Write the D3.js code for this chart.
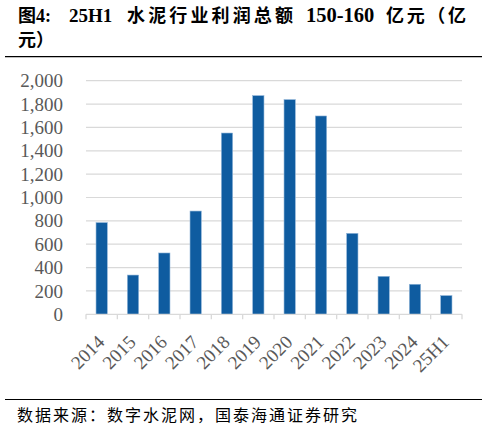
<!DOCTYPE html>
<html>
<head>
<meta charset="utf-8">
<script src="https://cdn.jsdelivr.net/npm/d3@7"></script>
<style>
  html, body { margin: 0; padding: 0; background: #fff; }
  svg { display: block; }
</style>
</head>
<body>
<svg id="chart" width="487" height="431"></svg>
<script>
// data (亿元)
var categories = ['2014', '2015', '2016', '2017', '2018', '2019', '2020', '2021', '2022', '2023', '2024', '25H1'];
var profits = [785, 336, 525, 884, 1552, 1872, 1838, 1698, 693, 325, 257, 160];
var yTicks = [0, 200, 400, 600, 800, 1000, 1200, 1400, 1600, 1800, 2000];

var svg = d3.select('#chart');
var plot = { left: 86, right: 462, top: 80.7, bottom: 314.3 };

var serif = '"Liberation Serif", "Times New Roman", serif';
var cjk = '"Noto Sans CJK SC", "Noto Sans", sans-serif';

// title, two lines (wraps like the original)
var title = svg.append('text')
    .attr('font-weight', 'bold')
    .attr('font-size', 18)
    .attr('fill', '#000');
var l1 = 22;
title.append('tspan').attr('x', 18).attr('y', l1).attr('font-family', cjk).text('图');
title.append('tspan').attr('x', 36).attr('y', l1).attr('font-family', serif).text('4:');
title.append('tspan').attr('x', 69).attr('y', l1).attr('font-family', serif)
    .attr('font-size', 19).text('25H1');
title.append('tspan').attr('x', 127).attr('y', l1).attr('font-family', cjk)
    .attr('textLength', 166).attr('lengthAdjust', 'spacing').text('水泥行业利润总额');
title.append('tspan').attr('x', 306).attr('y', l1).attr('font-family', serif)
    .attr('font-size', 20.5).text('150-160');
title.append('tspan').attr('x', 386).attr('y', l1).attr('font-family', cjk)
    .attr('textLength', 80).attr('lengthAdjust', 'spacing').text('亿元（亿');
title.append('tspan').attr('x', 18).attr('y', 46).attr('font-family', cjk).text('元）');

svg.append('line')
    .attr('x1', 5).attr('x2', 482).attr('y1', 56.7).attr('y2', 56.7)
    .attr('stroke', '#000').attr('stroke-width', 1.3);

// scales
var x = d3.scaleBand()
    .domain(categories)
    .range([plot.left, plot.right])
    .paddingInner(0.64)
    .paddingOuter(0.32);

var y = d3.scaleLinear()
    .domain([0, 2000])
    .range([plot.bottom, plot.top]);

// gridlines
svg.append('g')
    .selectAll('line')
    .data(yTicks.filter(function(d) { return d > 0; }))
    .join('line')
    .attr('x1', plot.left).attr('x2', plot.right)
    .attr('y1', function(d) { return y(d); })
    .attr('y2', function(d) { return y(d); })
    .attr('stroke', '#d9d9d9')
    .attr('stroke-width', 1.2);

// y axis labels
var yAxis = svg.append('g')
    .attr('transform', 'translate(' + (plot.left - 23) + ',0)')
    .call(d3.axisLeft(y).tickValues(yTicks).tickSize(0).tickPadding(0).tickFormat(d3.format(',')));
yAxis.select('.domain').remove();
yAxis.selectAll('text')
    .attr('font-family', serif)
    .attr('font-size', 19)
    .attr('fill', '#595959');

// bars
svg.append('g')
    .selectAll('rect')
    .data(profits)
    .join('rect')
    .attr('x', function(d, i) { return x(categories[i]); })
    .attr('y', function(d) { return y(d); })
    .attr('width', x.bandwidth())
    .attr('height', function(d) { return y(0) - y(d); })
    .attr('fill', '#0f5ca0')
    .attr('stroke', '#8fb4d8')
    .attr('stroke-width', 0.6);

// x axis line and ticks at band edges
svg.append('line')
    .attr('x1', plot.left).attr('x2', plot.right)
    .attr('y1', plot.bottom).attr('y2', plot.bottom)
    .attr('stroke', '#d9d9d9').attr('stroke-width', 1.3);

var edges = categories.map(function(c) { return x(c) - x.step() * x.paddingInner() / 2; });
edges.push(plot.right);
svg.append('g')
    .selectAll('line')
    .data(edges)
    .join('line')
    .attr('x1', function(d) { return d; }).attr('x2', function(d) { return d; })
    .attr('y1', plot.bottom).attr('y2', plot.bottom + 5)
    .attr('stroke', '#d9d9d9').attr('stroke-width', 1.3);

// rotated category labels
svg.append('g')
    .selectAll('text')
    .data(categories)
    .join('text')
    .attr('transform', function(d) {
        var cx = x(d) + x.bandwidth() / 2 + 4;
        return 'translate(' + cx + ',' + (plot.bottom + 29) + ') rotate(-45)';
    })
    .attr('text-anchor', 'end')
    .attr('font-family', serif)
    .attr('font-size', 19)
    .attr('fill', '#595959')
    .text(function(d) { return d; });

// footer
svg.append('line')
    .attr('x1', 5).attr('x2', 482).attr('y1', 399.5).attr('y2', 399.5)
    .attr('stroke', '#000').attr('stroke-width', 1.2);

svg.append('text')
    .attr('x', 17).attr('y', 421)
    .attr('font-family', cjk)
    .attr('font-size', 16)
    .attr('fill', '#000')
    .attr('textLength', 340)
    .attr('lengthAdjust', 'spacing')
    .text('数据来源：数字水泥网，国泰海通证券研究');
</script>
</body>
</html>
